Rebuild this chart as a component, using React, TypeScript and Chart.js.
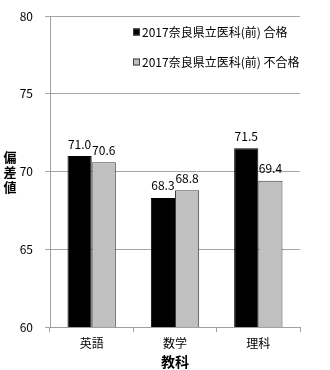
import React, { useEffect, useRef } from "react";
import { Chart, registerables } from "chart.js";

Chart.register(...registerables);

const categories = ["英語", "数学", "理科"];
const seriesNames = ["2017奈良県立医科(前) 合格", "2017奈良県立医科(前) 不合格"];
const passValues = [71.0, 68.3, 71.5];
const failValues = [70.6, 68.8, 69.4];
const yTicks = [60, 65, 70, 75, 80];
const yTitle = "偏差値";
const xTitle = "教科";

const FONT = "'Noto Sans CJK JP', 'Liberation Sans', sans-serif";
const colors = ["#000000", "#c0c0c0"];

export default function App() {
  const ref = useRef<HTMLCanvasElement | null>(null);
  useEffect(() => {
    document.body.style.margin = "0";
    const canvas = ref.current!;
    const overlay = {
      id: "overlay",
      afterDatasetsDraw(chart: any) {
        const ctx = chart.ctx;
        ctx.save();
        // value labels
        ctx.font = `12px ${FONT}`;
        ctx.fillStyle = "#000";
        ctx.textAlign = "center";
        ctx.textBaseline = "bottom";
        chart.data.datasets.forEach((ds: any, di: number) => {
          const meta = chart.getDatasetMeta(di);
          meta.data.forEach((bar: any, i: number) => {
            ctx.fillText(Number(ds.data[i]).toFixed(1), bar.x, bar.y - 6);
          });
        });
        // y title stacked
        ctx.font = `bold 13px ${FONT}`;
        ctx.textBaseline = "middle";
        const chars = Array.from(yTitle);
        chars.forEach((c, i) => {
          ctx.fillText(c, 10, 157 + i * 15);
        });
        // legend
        ctx.font = `12px ${FONT}`;
        ctx.textAlign = "left";
        seriesNames.forEach((name, i) => {
          const y = 32 + i * 30;
          ctx.fillStyle = colors[i];
          ctx.fillRect(133, y - 3.5, 7, 7);
          ctx.strokeStyle = "#404040";
          ctx.lineWidth = 1;
          ctx.strokeRect(133.5, y - 3, 6, 6);
          ctx.fillStyle = "#000";
          ctx.fillText(name, 142, y);
        });
        ctx.restore();
      },
    };
    const chart = new Chart(canvas, {
      type: "bar",
      data: {
        labels: categories,
        datasets: [
          {
            label: seriesNames[0],
            data: passValues,
            backgroundColor: colors[0],
            borderColor: "#000",
            borderWidth: 1,
            categoryPercentage: 0.58,
            barPercentage: 1,
          },
          {
            label: seriesNames[1],
            data: failValues,
            backgroundColor: colors[1],
            borderColor: "#404040",
            borderWidth: 1,
            categoryPercentage: 0.58,
            barPercentage: 1,
          },
        ],
      },
      options: {
        animation: false,
        responsive: false,
        layout: { padding: { top: 16, right: 30, left: 0, bottom: 0 } },
        plugins: { legend: { display: false }, tooltip: { enabled: false } },
        scales: {
          x: {
            grid: { drawOnChartArea: false, color: "#a0a0a0", tickLength: 5, offset: true },
            border: { color: "#a0a0a0" },
            ticks: { color: "#000", font: { family: FONT, size: 12 }, padding: 4 },
            title: {
              display: true,
              text: xTitle,
              color: "#000",
              font: { family: FONT, size: 14, weight: "bold" },
              padding: { top: 0, bottom: 0 },
            },
            afterFit: (s: any) => {
              s.height = 43;
              s.paddingLeft = 0;
              s.paddingRight = 0;
            },
          },
          y: {
            min: 60,
            max: 80,
            afterBuildTicks: (s: any) => {
              s.ticks = yTicks.map((v) => ({ value: v }));
            },
            grid: { color: "#a6a6a6", tickLength: 5 },
            border: { color: "#a0a0a0" },
            ticks: { color: "#000", font: { family: FONT, size: 12 }, padding: 12 },
            afterFit: (s: any) => {
              s.width = 50;
              s.paddingTop = 0;
              s.paddingBottom = 0;
            },
          },
        },
      },
      plugins: [overlay],
    } as any);
    return () => chart.destroy();
  }, []);
  return (
    <div style={{ position: "absolute", left: 0, top: 0, width: 330, height: 370, background: "#fff" }}>
      <canvas ref={ref} width={330} height={370} />
    </div>
  );
}
